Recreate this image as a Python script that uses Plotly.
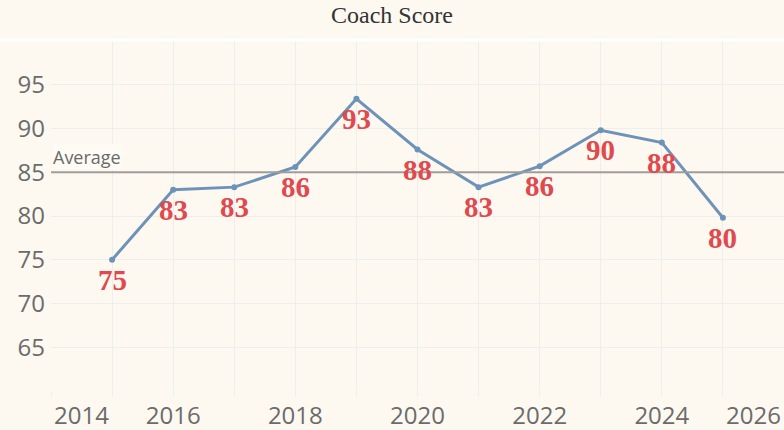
import numpy as np
import plotly.graph_objects as go

# Data
years = [2015, 2016, 2017, 2018, 2019, 2020, 2021, 2022, 2023, 2024, 2025]
scores = [75.0, 83.0, 83.3, 85.6, 93.4, 87.6, 83.3, 85.7, 89.8, 88.4, 79.8]
score_labels = [str(int(round(s))) for s in scores]

x_tick_vals = [2014.5, 2016, 2018, 2020, 2022, 2024, 2025.5]
x_tick_text = ["2014", "2016", "2018", "2020", "2022", "2024", "2026"]
y_tick_vals = [60, 65, 70, 75, 80, 85, 90, 95, 100]
y_tick_text = ["", "65", "70", "75", "80", "85", "90", "95", ""]

average = float(np.mean(scores))

bg = "#FDF9F1"
grid = "#EEEEEC"

fig = go.Figure()

# Score line
fig.add_trace(go.Scatter(
    x=years, y=scores,
    mode="lines+markers",
    line=dict(color="#6E93B9", width=3),
    marker=dict(size=6, color="#6E93B9"),
    hoverinfo="x+y",
    showlegend=False
))

# Value labels below each point
for yr, sc, lab in zip(years, scores, score_labels):
    fig.add_annotation(x=yr, y=sc, text=lab, showarrow=False,
                       xanchor="center", yanchor="middle", yshift=-20,
                       font=dict(family="Liberation Serif", size=29, color="#E0494E", weight="bold"))

# Average reference line
fig.add_shape(type="line", xref="paper", x0=0, x1=1, yref="y", y0=average, y1=average,
              line=dict(color="#A09C98", width=2), layer="above")
fig.add_annotation(xref="paper", x=0.002, yref="y", y=average, text="Average",
                   showarrow=False, xanchor="left", yanchor="bottom", yshift=2,
                   font=dict(family="Open Sans", size=18, color="#6A6A6A"),
                   bgcolor="#FEFBF5", borderpad=0)

# White separator between title band and plot
fig.add_shape(type="line", xref="paper", x0=-51 / 733, x1=1, yref="paper", y0=1.003, y1=1.003,
              line=dict(color="#FFFFFF", width=3))

fig.update_layout(
    width=784, height=430,
    margin=dict(l=51, r=0, t=41, b=39),
    paper_bgcolor=bg, plot_bgcolor=bg,
    title=dict(text="Coach Score", x=0.5, xanchor="center", y=1 - 15 / 430, yanchor="middle",
               font=dict(family="Liberation Serif", size=24, color="#333333")),
    xaxis=dict(
        range=[2014, 2026],
        tickmode="array", tickvals=x_tick_vals, ticktext=x_tick_text,
        showgrid=False, zeroline=False, showline=False, ticks="",
        ticklabelstandoff=8,
        tickfont=dict(family="Open Sans", size=24, color="#6B6B6B"),
        minor=dict(tickvals=list(range(2014, 2027)), showgrid=True, gridcolor=grid, gridwidth=1,
                   ticks="outside", ticklen=4, tickcolor=grid),
    ),
    yaxis=dict(
        range=[60, 100],
        tickmode="array", tickvals=y_tick_vals, ticktext=y_tick_text,
        showgrid=True, gridcolor=grid, gridwidth=1, zeroline=False, showline=False,
        ticks="", ticklabelstandoff=5,
        tickfont=dict(family="Open Sans", size=24, color="#6B6B6B"),
    ),
)

fig.write_html("out.html", config={"displayModeBar": False},
               post_script="document.body.style.margin='0';")
